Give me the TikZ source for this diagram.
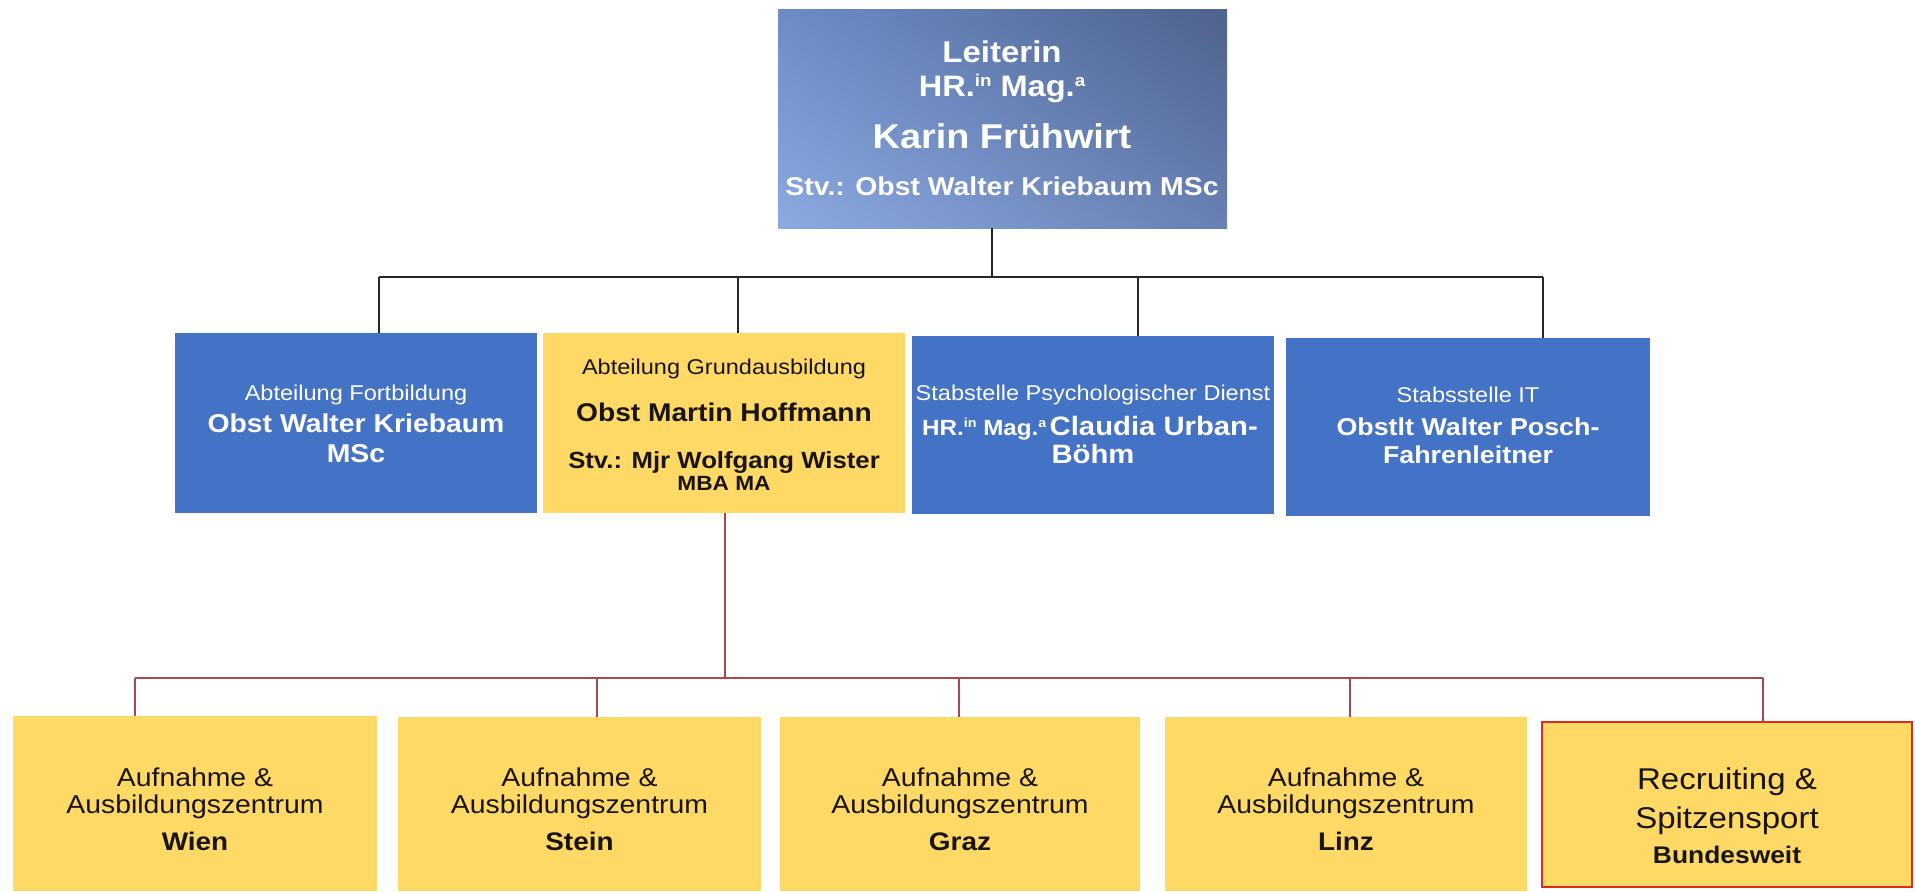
\documentclass[tikz,border=0pt]{standalone}
\usepackage{fontspec}
\usetikzlibrary{shadings}
\setmainfont[FakeStretch=1.1]{Liberation Sans}
\definecolor{boxblue}{RGB}{68,114,196}
\definecolor{boxyellow}{RGB}{255,217,102}
\definecolor{linered}{RGB}{170,70,80}
\definecolor{borderred}{RGB}{230,40,30}
\definecolor{darktext}{RGB}{25,20,15}
\definecolor{tUL}{RGB}{108,140,198}
\definecolor{tUR}{RGB}{78,98,140}
\definecolor{tLL}{RGB}{140,170,224}
\definecolor{tLR}{RGB}{104,128,180}
\newcommand{\fs}[1]{\fontsize{#1}{1.2\dimexpr#1pt\relax}\selectfont}
\newcommand{\ssup}[2]{\raisebox{0.33em}{\fontsize{#1}{#1}\selectfont #2}}
\tikzset{
  bx/.style={rectangle, inner sep=0pt, outer sep=0pt, draw=none},
  bluebox/.style={bx, fill=boxblue},
  yelbox/.style={bx, fill=boxyellow},
  txt/.style={anchor=base, inner sep=0pt, outer sep=0pt},
  wt/.style={txt, text=white},
  dk/.style={txt, text=darktext},
  blk/.style={draw=black!85, line width=0.75pt},
  redl/.style={draw=linered, line width=0.65pt},
}
\begin{document}
\begin{tikzpicture}[x=0.5pt,y=-0.5pt]
\useasboundingbox (0,0) rectangle (1915,891);
\fill[white] (0,0) rectangle (1915,891);

% top box
\node[bx, upper left=tUL, upper right=tUR, lower left=tLL, lower right=tLR,
      minimum width=224.5pt, minimum height=109.5pt] (top) at (1002.5,118.5) {};
\node[wt, font=\bfseries\fs{15}] (t1) at (1002,62) {Leiterin};
\node[wt, font=\bfseries\fs{14.8}] (t2) at (1002,96) {HR.\ssup{8.5pt}{in} Mag.\ssup{8.5pt}{a}};
\node[wt, font=\bfseries\fs{17.2}] (t3) at (1002,148) {Karin Frühwirt};
\node[wt, font=\bfseries\fs{12.9}] (t4) at (1002,195) {Stv.: Obst Walter Kriebaum MSc};

% middle row
\node[bluebox, minimum width=181pt, minimum height=90pt] (A) at (356,423) {};
\node[yelbox, minimum width=181pt, minimum height=90pt] (B) at (724,423) {};
\node[bluebox, minimum width=181pt, minimum height=89pt] (C) at (1093,425) {};
\node[bluebox, minimum width=182pt, minimum height=89pt] (D) at (1468,427) {};

\node[wt, font=\fs{10.7}] (a1) at (356,400) {Abteilung Fortbildung};
\node[wt, font=\bfseries\fs{12.9}] (a2) at (356,432) {Obst Walter Kriebaum};
\node[wt, font=\bfseries\fs{12.9}] (a3) at (356,462) {MSc};

\node[dk, font=\fs{10.7}] (b1) at (724,374) {Abteilung Grundausbildung};
\node[dk, font=\bfseries\fs{12.8}] (b2) at (724,421) {Obst Martin Hoffmann};
\node[dk, font=\bfseries\fs{11.7}] (b3) at (724,468) {Stv.: Mjr Wolfgang Wister};
\node[dk, font=\bfseries\fs{10.3}] (b4) at (724,490) {MBA MA};

\node[wt, font=\fs{10.7}] (c1) at (1093,400) {Stabstelle Psychologischer Dienst};
\node[wt] (c2) at (1090,435) {{\bfseries\fs{11}HR.\ssup{6.5pt}{in} Mag.\ssup{6.5pt}{a}}\,{\bfseries\fs{13.3}Claudia Urban-}};
\node[wt, font=\bfseries\fs{13.3}] (c3) at (1093,463) {Böhm};

\node[wt, font=\fs{10.7}] (d1) at (1468,402) {Stabsstelle IT};
\node[wt, font=\bfseries\fs{12.2}] (d2) at (1468,435) {Obstlt Walter Posch-};
\node[wt, font=\bfseries\fs{12.2}] (d3) at (1468,463) {Fahrenleitner};

% bottom row
\node[yelbox, minimum width=182pt, minimum height=87.5pt] (W) at (195,803.5) {};
\node[yelbox, minimum width=181.5pt, minimum height=87pt] (S) at (579.5,804) {};
\node[yelbox, minimum width=180pt, minimum height=87pt] (G) at (960,804) {};
\node[yelbox, minimum width=181pt, minimum height=87pt] (L) at (1346,804) {};
\node[yelbox, draw=borderred, line width=1pt, minimum width=185pt, minimum height=82.5pt] (R) at (1727,804.5) {};

\foreach \n/\x/\c in {W/195/Wien, S/579.5/Stein, G/960/Graz, L/1346/Linz}{
  \node[dk, font=\fs{12.9}] (\n1) at (\x,786) {Aufnahme \&};
  \node[dk, font=\fs{12.9}] (\n2) at (\x,813) {Ausbildungszentrum};
  \node[dk, font=\bfseries\fs{12.7}] (\n3) at (\x,850) {\c};
}
\node[dk, font=\fs{15}] (r1) at (1727,789) {Recruiting \&};
\node[dk, font=\fs{15}] (r2) at (1727,828) {Spitzensport};
\node[dk, font=\bfseries\fs{12}] (r3) at (1727,863) {Bundesweit};

% black connectors
\coordinate (j0) at (992,277);
\coordinate (dA) at (379,277);
\coordinate (dB) at (738,277);
\coordinate (dC) at (1138,277);
\coordinate (dD) at (1543,277);
\draw[blk] (top.south -| j0) -- (j0);
\draw[blk] (dA) -- (dD);
\draw[blk] (dA) -- (dA |- A.north);
\draw[blk] (dB) -- (dB |- B.north);
\draw[blk] (dC) -- (dC |- C.north);
\draw[blk] (dD) -- (dD |- D.north);

% red connectors
\coordinate (r0) at (725,678);
\coordinate (rW) at (135,678);
\coordinate (rS) at (597,678);
\coordinate (rG) at (959,678);
\coordinate (rL) at (1350,678);
\coordinate (rR) at (1763,678);
\draw[redl] (B.south -| r0) -- (r0);
\draw[redl] (rW) -- (rR);
\draw[redl] (rW) -- (rW |- W.north);
\draw[redl] (rS) -- (rS |- S.north);
\draw[redl] (rG) -- (rG |- G.north);
\draw[redl] (rL) -- (rL |- L.north);
\draw[redl] (rR) -- (rR |- R.north);
\end{tikzpicture}
\end{document}
